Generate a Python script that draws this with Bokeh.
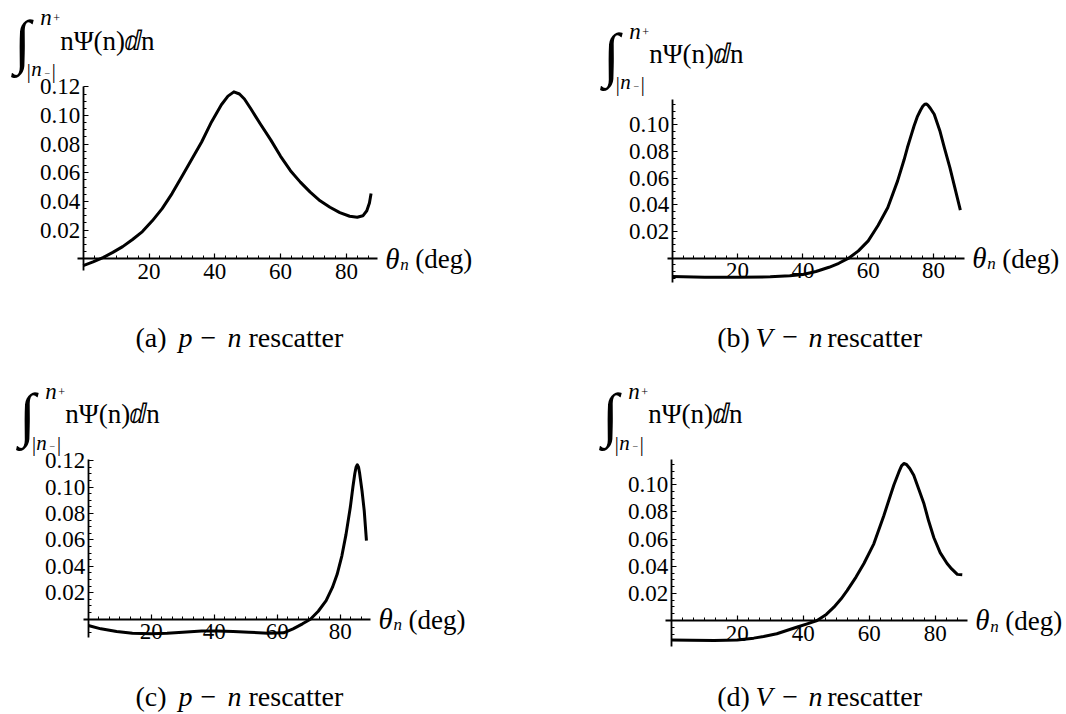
from bokeh.plotting import figure
from bokeh.models import Range1d, FixedTicker, NumeralTickFormatter, Label
from bokeh.layouts import gridplot
from bokeh.embed import file_html
from bokeh.resources import INLINE

# ---------------- data ----------------
theta_a = [0, 3, 6, 9, 12, 15, 18, 21, 24, 27, 30, 33, 36, 39, 42, 44, 45.8, 47.5, 49, 51,
           54, 57, 60, 63, 66, 69, 72, 75, 78, 81, 83.3, 85, 86.2, 87.0, 87.5]
psi_a = [-0.0047, -0.0022, 0.0008, 0.0045, 0.0085, 0.0135, 0.0190, 0.0265, 0.0350, 0.0455,
         0.0575, 0.0695, 0.0815, 0.0955, 0.1075, 0.1135, 0.1165, 0.1150, 0.1115, 0.1045,
         0.0935, 0.0830, 0.0715, 0.0615, 0.0535, 0.0465, 0.0405, 0.0360, 0.0322, 0.0297,
         0.0290, 0.0300, 0.0335, 0.0390, 0.0455]

theta_b = [0, 10, 20, 30, 36, 40, 44, 48, 51, 54, 57, 60, 63, 66, 69, 71, 72, 73, 74, 75,
           76, 76.7, 77.3, 77.8, 78.2, 79, 80.2, 82, 83.3, 85, 86.3, 88.2]
psi_b = [-0.0138, -0.0142, -0.0143, -0.0140, -0.0132, -0.0122, -0.0100, -0.0068, -0.0038,
         0.0000, 0.0055, 0.0130, 0.0245, 0.0380, 0.0580, 0.0740, 0.0830, 0.0910, 0.0990,
         0.1060, 0.1110, 0.1140, 0.1155, 0.1157, 0.1150, 0.1125, 0.1080, 0.0950, 0.0830,
         0.0680, 0.0550, 0.0360]

theta_c = [0, 4, 9, 14, 20, 25, 30, 36, 41, 46, 51, 57, 62, 65, 68, 70.5, 73, 75.5, 77.5,
           79, 80.5, 81.8, 83.2, 84, 84.6, 85.0, 85.4, 85.8, 86.1, 86.9, 87.6, 88.3]
psi_c = [-0.0048, -0.0073, -0.0093, -0.0106, -0.0110, -0.0106, -0.0098, -0.0090, -0.0090,
         -0.0093, -0.0098, -0.0106, -0.0103, -0.0073, -0.0035, 0.0000, 0.0060, 0.0140,
         0.0240, 0.0340, 0.0480, 0.0640, 0.0850, 0.1000, 0.1100, 0.1150, 0.1168, 0.1150,
         0.1110, 0.0970, 0.0820, 0.0595]

theta_d = [0, 6, 13, 20, 25, 28, 32, 35, 38, 41.2, 44.2, 47, 49.3, 51.5, 53.3, 56, 58.4,
           61.4, 64.4, 66, 67.5, 69, 69.8, 70.5, 71.3, 72.3, 73.5, 75, 76.6, 78, 79.6, 81.5,
           83.6, 85, 86.7, 88.2]
psi_d = [-0.0143, -0.0146, -0.0147, -0.0143, -0.0130, -0.0118, -0.0098, -0.0074, -0.0050,
         -0.0025, 0.0000, 0.0045, 0.0098, 0.0160, 0.0220, 0.0320, 0.0420, 0.0565, 0.0770,
         0.0890, 0.1000, 0.1095, 0.1140, 0.1157, 0.1150, 0.1120, 0.1070, 0.0970, 0.0860,
         0.0735, 0.0610, 0.0500, 0.0420, 0.0380, 0.0340, 0.0337]

x_ticks = [20, 40, 60, 80]
y_ticks_ac = [0.02, 0.04, 0.06, 0.08, 0.10, 0.12]
y_ticks_bd = [0.02, 0.04, 0.06, 0.08, 0.10]

caption_tags = ["(a)", "(b)", "(c)", "(d)"]
caption_first = ["p", "V", "p", "V"]
caption_word = "rescatter"
x_label_sym = "θ"
x_label_sub = "n"
x_label_unit = "(deg)"
y_label_body = "nΨ(n)ⅆn"

SERIF = "Liberation Serif"
W = 532
H_TOP, H_BOT = 356, 357

# panel geometry: page-pixel origin, pixel scales, axis bounds, caption positions
panels = [
    dict(theta=theta_a, psi=psi_a, yt=y_ticks_ac, fx=0, fy=0, h=H_TOP, ox=82.7, oy=258.3, sx=3.29, sy=1433.0,
         xb=(-1.8, 89.4), yb=(-0.0082, 0.1205), cx=[135, 178, 200, 227, 248], cm=337),
    dict(theta=theta_b, psi=psi_b, yt=y_ticks_bd, fx=W, fy=0, h=H_TOP, ox=671.7, oy=257.7, sx=3.267, sy=1333.0,
         xb=(-1.5, 89.4), yb=(-0.0185, 0.1188), cx=[716.7, 755, 781.7, 808, 826.7], cm=336.5),
    dict(theta=theta_c, psi=psi_c, yt=y_ticks_ac, fx=0, fy=H_TOP, h=H_BOT, ox=87.8, oy=618.7, sx=3.15, sy=1321.7,
         xb=(-1.4, 89.6), yb=(-0.0141, 0.1205), cx=[135, 178, 200, 227, 248], cm=696),
    dict(theta=theta_d, psi=psi_d, yt=y_ticks_bd, fx=W, fy=H_TOP, h=H_BOT, ox=670.7, oy=620.0, sx=3.3, sy=1356.7,
         xb=(-1.6, 89.7), yb=(-0.0189, 0.1184), cx=[716.7, 755, 781.7, 808, 826.7], cm=696),
]


def make_panel(i, P):
    ox, oy, sx, sy = P["ox"], P["oy"], P["sx"], P["sy"]
    fx, fy, h = P["fx"], P["fy"], P["h"]

    def X(px):
        return (px - ox) / sx

    def Y(py):
        return (oy - py) / sy

    p = figure(width=W, height=h, output_backend="svg", toolbar_location=None,
               x_range=Range1d(X(fx), X(fx + W)), y_range=Range1d(Y(fy + h), Y(fy)),
               min_border=0, outline_line_color=None,
               background_fill_color="white", border_fill_color="white")
    p.grid.visible = False

    p.xaxis.fixed_location = 0
    p.yaxis.fixed_location = 0
    p.xaxis.bounds = P["xb"]
    p.yaxis.bounds = P["yb"]

    x_minor = [k * 20 / 6 for k in range(1, 27) if k % 6 != 0 and k * 20 / 6 < P["xb"][1]]
    y_minor = [round(k * 0.005, 4) for k in range(-4, 25)
               if k % 4 != 0 and P["yb"][0] <= k * 0.005 <= P["yb"][1]]
    p.xaxis.ticker = FixedTicker(ticks=x_ticks, minor_ticks=x_minor)
    p.yaxis.ticker = FixedTicker(ticks=P["yt"], minor_ticks=y_minor)
    p.yaxis.formatter = NumeralTickFormatter(format="0.00")

    for ax in (p.xaxis, p.yaxis):
        ax.axis_line_width = 1.8
        ax.axis_line_color = "black"
        ax.major_tick_line_color = "black"
        ax.major_tick_line_width = 1.2
        ax.major_tick_in = 5
        ax.major_tick_out = 0
        ax.minor_tick_line_color = "black"
        ax.minor_tick_line_width = 1
        ax.minor_tick_in = 3
        ax.minor_tick_out = 0
        ax.major_label_text_font = SERIF
        ax.major_label_text_font_size = "23px"
        ax.major_label_text_color = "black"
    p.yaxis.major_label_standoff = 3
    p.xaxis.major_label_standoff = 5

    p.line(P["theta"], P["psi"], line_color="black", line_width=3, line_join="round")

    def txt(px, py, s, size, style="normal", align="left", mid=False):
        # py is the alphabetic baseline unless mid=True; anchor every text at its middle
        fs = float(size[:-2])
        ym = py if mid else py - 0.35 * fs
        p.add_layout(Label(x=X(px), y=Y(ym), text=s, text_font=SERIF, text_font_size=size,
                           text_font_style=style, text_align=align, text_baseline="middle",
                           text_color="black"))

    # y-axis label (integral), relative to the top of the y axis
    yt = oy - P["yb"][1] * sy
    txt(ox - 61, yt - 44.5, "∫", "60px", align="center", mid=True)
    txt(ox - 43, yt - 60.5, "n", "23px", style="italic")
    txt(ox - 30, yt - 63.5, "+", "12px")
    txt(ox - 54.4, yt - 8.5, "|", "20px", align="center")
    txt(ox - 52, yt - 10, "n", "21px", style="italic")
    txt(ox - 36, yt - 13, "−", "10px", align="center", mid=True)
    txt(ox - 29.4, yt - 8.5, "|", "20px", align="center")
    txt(ox - 23, yt - 36, y_label_body, "27px")

    # x-axis label at the end of the x axis
    xe = ox + P["xb"][1] * sx
    txt(xe + 8, oy + 10, x_label_sym, "29px", style="italic")
    txt(xe + 23, oy + 11.5, x_label_sub, "17px", style="italic")
    txt(xe + 38, oy + 10, x_label_unit, "27px")

    # caption (anchored at its middle)
    cx, cm = P["cx"], P["cm"]
    txt(cx[0], cm, caption_tags[i], "28px", mid=True)
    txt(cx[1], cm, caption_first[i], "28px", style="italic", mid=True)
    txt(cx[2], cm, "−", "28px", mid=True)
    txt(cx[3], cm, "n", "28px", style="italic", mid=True)
    txt(cx[4], cm, caption_word, "28px", mid=True)
    return p


figs = [make_panel(i, P) for i, P in enumerate(panels)]
grid = gridplot([[figs[0], figs[1]], [figs[2], figs[3]]], toolbar_location=None)

open("out.html", "w").write(file_html(grid, INLINE))
